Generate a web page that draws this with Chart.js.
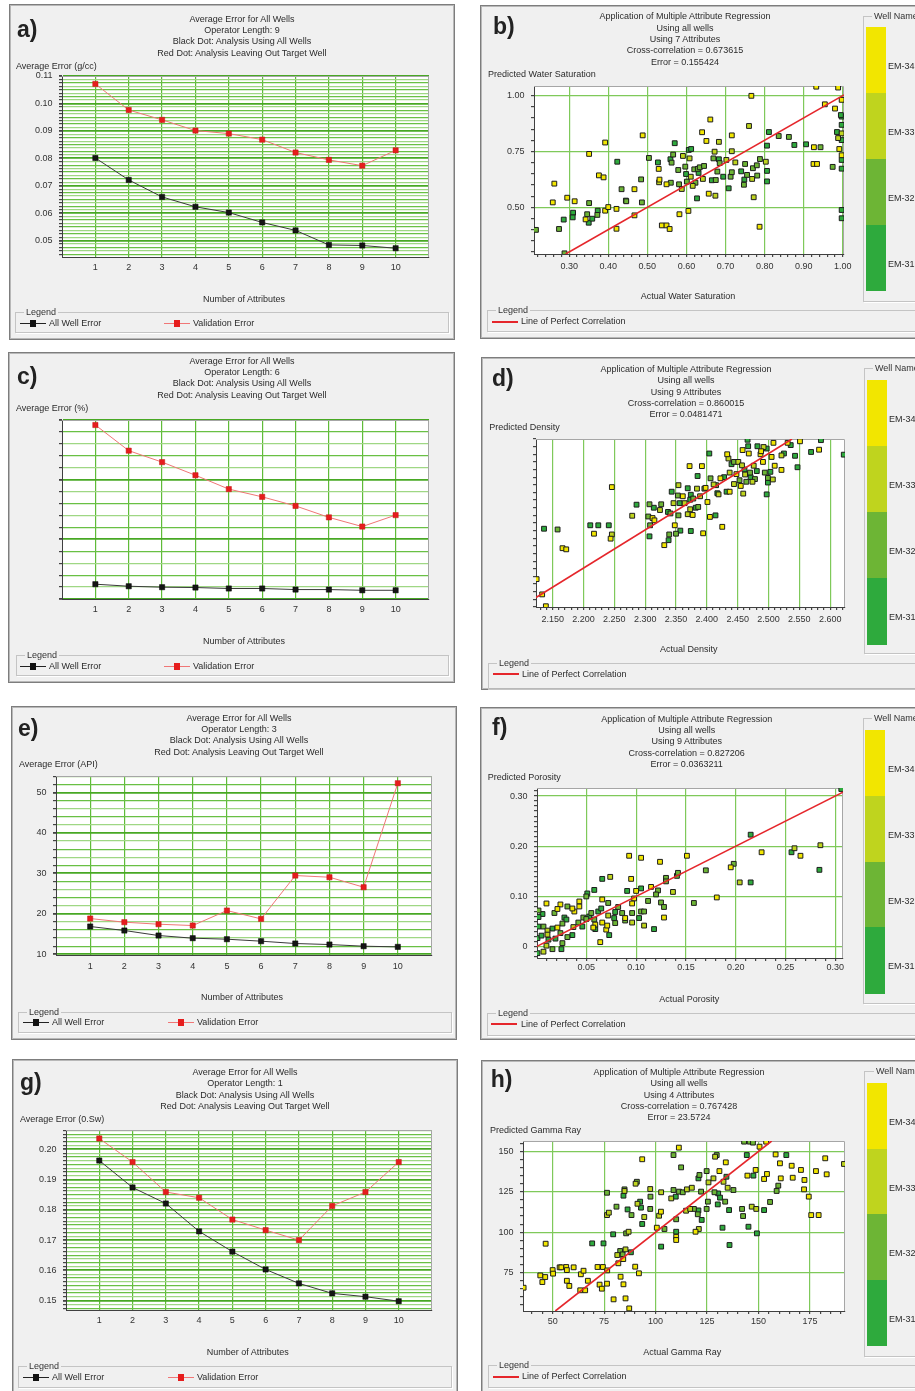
<!DOCTYPE html>
<html>
<head>
<meta charset="utf-8">
<script src="https://cdn.jsdelivr.net/npm/chart.js@4.4.0/dist/chart.umd.min.js"></script>
<style>
html, body { margin: 0; padding: 0; background: #fff; }
body { position: relative; width: 915px; height: 1391px; overflow: hidden; font-family: "Liberation Sans", Arial, sans-serif; color: #2b2b2b; }
.panel { position: absolute; background: #f0f0f0; border: 1px solid #7d7d7d; box-shadow: inset 0 0 0 1px #b8b8b8; box-sizing: border-box; }
.t { position: absolute; font-size: 9px; line-height: 11px; white-space: nowrap; }
.lbl { position: absolute; font-size: 23px; line-height: 23px; font-weight: bold; color: #222; }
.grp { position: absolute; border: 1px solid #c4c4c4; box-shadow: 1px 1px 0 #fff; box-sizing: border-box; }
.grp span { position: absolute; top: -6px; background: #f0f0f0; padding: 0 2px; font-size: 9px; line-height: 11px; color: #333; }
canvas { position: absolute; }
</style>
</head>
<body>
<script>
// ---- data: error vs number of attributes ----
const attributes = [1, 2, 3, 4, 5, 6, 7, 8, 9, 10];
const aAllWell    = [0.0801, 0.0721, 0.0659, 0.0623, 0.0602, 0.0566, 0.0537, 0.0484, 0.0482, 0.0472];
const aValidation = [0.1071, 0.0976, 0.0940, 0.0901, 0.0890, 0.0868, 0.0821, 0.0794, 0.0773, 0.0829];
const cAllWell    = [1.24, 1.07, 0.99, 0.96, 0.88, 0.88, 0.79, 0.79, 0.73, 0.73];
const cValidation = [14.58, 12.43, 11.47, 10.37, 9.21, 8.56, 7.80, 6.84, 6.07, 7.03];
const eAllWell    = [16.85, 15.86, 14.62, 13.96, 13.71, 13.22, 12.64, 12.39, 11.98, 11.81];
const eValidation = [18.82, 17.92, 17.42, 17.09, 20.80, 18.74, 29.46, 29.05, 26.58, 52.31];
const gAllWell    = [0.1963, 0.1874, 0.1821, 0.1729, 0.1662, 0.1603, 0.1557, 0.1524, 0.1513, 0.1498];
const gValidation = [0.2036, 0.1958, 0.1859, 0.1840, 0.1768, 0.1733, 0.1700, 0.1813, 0.1859, 0.1958];

// ---- data: crossplots, [actual, predicted] per well ----
const wellNames  = ['EM-34', 'EM-33', 'EM-32', 'EM-31'];
const wellColors = ['#f2e600', '#bfd41e', '#6db535', '#2eaa3d'];

const bEM34 = [[0.262,0.606],[0.258,0.522],[0.295,0.543],[0.314,0.527],[0.342,0.446],[0.351,0.739],[0.376,0.643],[0.388,0.634],[0.392,0.790],[0.392,0.485],[0.400,0.501],[0.421,0.493],[0.421,0.404],[0.467,0.581],[0.467,0.464],[0.488,0.822],[0.529,0.672],[0.531,0.624],[0.537,0.419],[0.549,0.419],[0.549,0.603],[0.557,0.403],[0.582,0.469],[0.605,0.484],[0.640,0.836],[0.651,0.797],[0.657,0.561],[0.661,0.893],[0.716,0.822],[0.766,0.999],[0.787,0.413],[0.926,0.769],[0.925,0.694],[0.934,0.694],[0.932,1.040],[0.954,0.961],[0.980,0.942],[0.988,1.036],[0.991,0.761],[0.997,0.981],[0.997,0.733]];
const bEM33 = [[0.530,0.612],[0.588,0.582],[0.591,0.730],[0.608,0.719],[0.611,0.637],[0.616,0.596],[0.642,0.627],[0.672,0.749],[0.674,0.552],[0.683,0.793],[0.702,0.712],[0.716,0.751],[0.725,0.701],[0.760,0.864],[0.768,0.627],[0.772,0.545],[0.803,0.704],[0.988,0.810],[0.997,0.831]];
const bEM32 = [[0.215,0.399],[0.274,0.403],[0.288,0.294],[0.346,0.469],[0.351,0.519],[0.372,0.466],[0.434,0.581],[0.446,0.527],[0.484,0.625],[0.486,0.522],[0.504,0.721],[0.560,0.610],[0.562,0.700],[0.566,0.736],[0.579,0.667],[0.581,0.603],[0.597,0.682],[0.601,0.615],[0.620,0.670],[0.623,0.610],[0.629,0.672],[0.634,0.679],[0.645,0.685],[0.669,0.719],[0.675,0.622],[0.679,0.660],[0.685,0.698],[0.713,0.637],[0.716,0.657],[0.747,0.601],[0.750,0.694],[0.755,0.645],[0.770,0.675],[0.780,0.688],[0.781,0.642],[0.788,0.716],[0.836,0.819],[0.862,0.815],[0.943,0.769],[0.974,0.681]];
const bEM31 = [[0.286,0.445],[0.310,0.476],[0.309,0.455],[0.350,0.431],[0.359,0.449],[0.373,0.485],[0.423,0.704],[0.445,0.530],[0.527,0.701],[0.559,0.715],[0.570,0.787],[0.599,0.649],[0.606,0.757],[0.612,0.761],[0.627,0.540],[0.631,0.654],[0.665,0.621],[0.683,0.715],[0.694,0.637],[0.708,0.585],[0.740,0.661],[0.748,0.624],[0.806,0.776],[0.806,0.663],[0.806,0.616],[0.811,0.837],[0.876,0.779],[0.906,0.782],[0.985,0.837],[0.997,0.906],[0.997,0.869],[0.997,0.801],[0.997,0.712],[0.997,0.673],[0.997,0.488],[0.997,0.451],[0.995,0.913]];

const dEM34 = [[2.124,2.171],[2.133,2.131],[2.139,2.100],[2.166,2.252],[2.172,2.249],[2.217,2.290],[2.246,2.412],[2.244,2.277],[2.312,2.331],[2.315,2.325],[2.331,2.260],[2.348,2.312],[2.361,2.388],[2.372,2.467],[2.377,2.339],[2.392,2.467],[2.394,2.291],[2.398,2.410],[2.401,2.373],[2.405,2.334],[2.422,2.435],[2.425,2.308],[2.433,2.498],[2.437,2.400],[2.448,2.446],[2.455,2.415],[2.458,2.509],[2.468,2.500],[2.487,2.498],[2.488,2.506],[2.491,2.478],[2.505,2.491],[2.508,2.528],[2.510,2.468],[2.521,2.457],[2.531,2.528],[2.551,2.532],[2.582,2.510]];
const dEM33 = [[2.246,2.288],[2.279,2.337],[2.324,2.352],[2.346,2.370],[2.364,2.370],[2.369,2.341],[2.373,2.354],[2.389,2.388],[2.419,2.393],[2.435,2.487],[2.437,2.450],[2.444,2.420],[2.451,2.478],[2.457,2.469],[2.462,2.445],[2.474,2.426],[2.476,2.468],[2.492,2.517],[2.507,2.432],[2.521,2.495],[2.354,2.417],[2.384,2.408],[2.411,2.419],[2.459,2.395]];
const dEM32 = [[2.158,2.301],[2.305,2.335],[2.307,2.367],[2.308,2.312],[2.326,2.367],[2.339,2.288],[2.341,2.343],[2.350,2.290],[2.353,2.390],[2.354,2.338],[2.378,2.382],[2.386,2.360],[2.396,2.408],[2.406,2.435],[2.415,2.417],[2.444,2.478],[2.453,2.430],[2.464,2.426],[2.470,2.450],[2.478,2.433],[2.494,2.450],[2.499,2.436]];
const dEM31 = [[2.136,2.303],[2.211,2.312],[2.224,2.312],[2.241,2.312],[2.286,2.366],[2.307,2.283],[2.314,2.358],[2.337,2.347],[2.338,2.273],[2.343,2.400],[2.356,2.370],[2.357,2.298],[2.369,2.409],[2.374,2.392],[2.374,2.297],[2.382,2.358],[2.385,2.441],[2.404,2.500],[2.414,2.338],[2.417,2.396],[2.428,2.438],[2.432,2.400],[2.440,2.472],[2.461,2.458],[2.466,2.536],[2.467,2.519],[2.471,2.438],[2.481,2.454],[2.482,2.519],[2.497,2.513],[2.497,2.393],[2.499,2.424],[2.503,2.452],[2.525,2.500],[2.536,2.522],[2.543,2.494],[2.547,2.464],[2.569,2.504],[2.585,2.535],[2.622,2.497],[2.373,2.379]];

const fEM34 = [[0.093,0.181],[0.105,0.177],[0.124,0.169],[0.151,0.181],[0.095,0.135],[0.100,0.111],[0.115,0.119],[0.098,0.096],[0.096,0.086],[0.128,0.058],[0.181,0.098],[0.195,0.158],[0.226,0.188],[0.265,0.181],[0.070,0.034],[0.064,0.009],[0.066,0.094],[0.043,0.090],[0.043,0.080],[0.038,0.070],[0.036,0.076],[0.024,0.084],[0.021,0.075],[0.010,0.086],[0.021,0.038],[0.059,0.044],[0.066,0.048],[0.071,0.042],[0.057,0.038],[0.089,0.057]];
const fEM33 = [[0.074,0.139],[0.137,0.109],[0.204,0.128],[0.259,0.196],[0.285,0.202],[0.108,0.042],[0.096,0.048],[0.072,0.062],[0.011,0.032],[0.037,0.039],[0.010,0.002],[0.007,-0.010],[0.011,0.024]];
const fEM32 = [[0.122,0.112],[0.130,0.137],[0.130,0.130],[0.141,0.141],[0.142,0.147],[0.120,0.104],[0.112,0.091],[0.125,0.088],[0.128,0.079],[0.158,0.087],[0.170,0.152],[0.198,0.165],[0.105,0.070],[0.108,0.070],[0.096,0.067],[0.089,0.052],[0.086,0.067],[0.082,0.079],[0.072,0.087],[0.050,0.100],[0.031,0.080],[0.018,0.067],[0.002,0.072],[0.007,0.040],[0.026,0.046],[0.042,0.048],[0.047,0.058],[0.055,0.067],[0.058,0.054],[0.050,0.055],[0.031,0.019],[0.026,0.007],[0.016,-0.005],[0.024,0.027],[0.079,0.047]];
const fEM31 = [[0.306,0.314],[0.215,0.223],[0.066,0.135],[0.105,0.116],[0.091,0.111],[0.215,0.128],[0.256,0.188],[0.284,0.153],[0.118,0.035],[0.103,0.057],[0.079,0.069],[0.078,0.057],[0.073,0.023],[0.058,0.113],[0.051,0.106],[0.006,0.065],[0.002,0.059],[0.002,0.040],[0.016,0.036],[0.028,0.058],[0.030,0.054],[0.053,0.060],[0.062,0.070],[0.065,0.076],[0.059,0.035],[0.046,0.040],[0.036,0.023],[0.025,-0.005],[0.001,-0.013],[0.001,0.017],[0.005,0.022],[0.019,0.016],[0.012,0.014]];

const hEM34 = [[35.9,65.7],[46.6,92.9],[44.0,73.3],[45.0,69.2],[46.4,72.3],[50.0,76.6],[50.2,74.4],[53.4,78.3],[54.2,78.3],[56.6,78.5],[56.9,76.6],[56.9,70.0],[58.1,66.8],[60.2,78.3],[63.4,64.1],[63.7,74.0],[65.0,76.2],[65.8,64.1],[67.1,70.0],[71.8,78.5],[72.8,67.6],[73.9,65.1],[74.4,78.5],[76.4,68.2],[76.5,76.4],[79.6,58.5],[81.9,80.8],[83.0,72.5],[84.3,83.4],[84.4,67.8],[85.4,59.1],[87.2,52.9],[90.1,78.7],[91.9,74.6],[93.5,145.1],[100.6,102.8],[102.6,112.7],[110.0,97.2],[110.0,95.2],[111.3,152.3],[119.4,100.3],[131.0,137.8],[134.1,143.2],[144.6,135.0],[148.6,138.5],[150.5,152.9],[152.7,132.9],[153.7,156.0],[154.1,136.0],[158.3,148.1],[160.4,142.6],[160.8,133.3],[166.1,141.1],[166.6,133.7],[170.6,138.5],[172.3,132.3],[172.1,126.5],[174.4,122.0],[175.6,110.6],[179.2,110.6],[177.9,137.8],[182.4,145.7],[183.1,135.8]];
const hEM33 = [[76.4,110.6],[77.3,112.1],[81.4,85.9],[84.9,125.5],[85.4,89.4],[86.9,100.3],[90.3,130.0],[91.2,117.6],[94.5,109.4],[97.4,126.7],[101.7,110.2],[102.7,124.7],[107.6,120.9],[114.8,113.3],[115.2,126.5],[116.8,114.4],[117.6,127.5],[121.0,102.0],[125.7,130.8],[128.1,133.3],[128.9,146.7],[133.0,131.2],[135.0,127.5],[146.7,115.8],[148.9,114.4],[191.5,142.2]];
const hEM32 = [[76.4,124.4],[81.0,115.8],[82.8,88.4],[84.0,86.3],[84.9,126.5],[85.7,99.3],[88.3,110.6],[90.9,131.2],[97.5,122.0],[97.4,114.4],[104.3,102.0],[108.7,147.7],[110.0,108.0],[112.4,140.1],[108.7,126.1],[111.4,125.1],[113.2,124.7],[118.6,114.4],[120.5,111.1],[121.3,135.4],[122.1,125.1],[124.8,137.8],[125.4,118.9],[124.8,114.4],[128.6,124.7],[129.7,147.7],[133.8,118.9],[137.8,126.1],[142.0,114.4],[142.5,110.0],[143.0,156.0],[145.7,156.0],[147.3,155.4],[155.6,118.7],[158.8,125.5],[159.6,128.8]];
const hEM31 = [[69.2,93.1],[74.7,93.1],[79.4,98.7],[84.4,122.6],[86.4,114.1],[88.0,87.6],[92.5,118.9],[92.9,115.2],[93.5,105.1],[102.7,91.1],[110.0,100.3],[109.8,122.0],[120.8,133.3],[120.8,113.5],[122.4,107.6],[130.2,117.2],[130.4,124.0],[131.3,121.4],[132.5,102.8],[134.4,134.3],[135.7,113.7],[135.9,92.1],[144.3,147.7],[145.1,103.4],[147.5,135.0],[149.2,99.3],[152.7,113.7],[163.5,147.7]];

// ---- panel layout ----
const errTitle = op => ['Average Error for All Wells', 'Operator Length: ' + op, 'Black Dot: Analysis Using All Wells', 'Red Dot: Analysis Leaving Out Target Well'];
const regTitle = (n, cc, err) => ['Application of Multiple Attribute Regression', 'Using all wells', 'Using ' + n + ' Attributes', 'Cross-correlation = ' + cc, 'Error = ' + err];

const linePanels = [
  { tag: 'a)', box: { x: 9, y: 4, w: 446, h: 336 }, plot: { l: 62, t: 76, r: 429, b: 257 },
    y: { min: 0.044, max: 0.11, step: 0.00125, major: 0.01, fmt: v => v.toFixed(2) },
    all: aAllWell, val: aValidation, xPad: 5.6, label: [17, 31.7],
    title: { cx: 242, y0: 19, lines: errTitle(9) }, yTitle: [16, 66, 'Average Error (g/cc)'], xTitle: [244, 299],
    legend: { l: 15, r: 449, t: 312, b: 333, y: 323, x1: 20, x2: 164 } },
  { tag: 'c)', box: { x: 8, y: 352, w: 447, h: 331 }, plot: { l: 62, t: 420, r: 429, b: 599 },
    y: { min: 0, max: 15, step: 1, major: 5, fmt: v => '' },
    all: cAllWell, val: cValidation, xPad: 5.6, label: [17, 378.3],
    title: { cx: 242, y0: 361, lines: errTitle(6) }, yTitle: [16, 408, 'Average Error (%)'], xTitle: [244, 641.7],
    legend: { l: 16, r: 449, t: 655, b: 676, y: 666, x1: 20, x2: 164 } },
  { tag: 'e)', box: { x: 11, y: 706, w: 446, h: 334 }, plot: { l: 56, t: 776, r: 432, b: 955 },
    y: { min: 9.8, max: 54.1, step: 2, major: 10, fmt: v => String(Math.round(v)) },
    all: eAllWell, val: eValidation, xPad: 6.3, label: [18, 730],
    title: { cx: 239, y0: 718, lines: errTitle(3) }, yTitle: [19, 764.3, 'Average Error (API)'], xTitle: [242, 997.7],
    legend: { l: 18, r: 452, t: 1012, b: 1033, y: 1022, x1: 23, x2: 168 } },
  { tag: 'g)', box: { x: 12, y: 1059, w: 446, h: 340 }, plot: { l: 66, t: 1130, r: 432, b: 1310 },
    y: { min: 0.1469, max: 0.2064, step: 0.00125, major: 0.01, fmt: v => v.toFixed(2) },
    all: gAllWell, val: gValidation, xPad: 5.6, label: [20, 1084],
    title: { cx: 245, y0: 1072.3, lines: errTitle(1) }, yTitle: [20, 1119, 'Average Error (0.Sw)'], xTitle: [247.7, 1352.3],
    legend: { l: 18, r: 452, t: 1366, b: 1388, y: 1377, x1: 23, x2: 168 } }
];

const scatterPanels = [
  { tag: 'b)', box: { x: 480, y: 5, w: 460, h: 334 }, plot: { l: 534, t: 86, r: 844, b: 254 },
    x: { min: 0.21, max: 1.003, step: 0.02, major: 0.1, fmt: v => v.toFixed(2) },
    y: { min: 0.291, max: 1.043, step: 0.05, major: 0.25, fmt: v => v.toFixed(2) },
    wells: [bEM34, bEM33, bEM32, bEM31], xPad: 4.3, label: [493, 28.3],
    title: { cx: 685, y0: 16.7, lines: regTitle(7, '0.673615', '0.155424') },
    yTitle: [488, 74.7, 'Predicted Water Saturation'], xTitle: [688, 296.7, 'Actual Water Saturation'],
    legend: { l: 487, t: 310, b: 332, y: 321.7, lx: 492, tx: 521 },
    wellBox: { l: 863, t: 15.7, b: 301.7, lx: 873, bar: [866, 886, 27.3, 290.7], tx: 888 } },
  { tag: 'd)', box: { x: 481, y: 357, w: 460, h: 333 }, plot: { l: 536, t: 439, r: 845, b: 607 },
    x: { min: 2.123, max: 2.624, step: 0.01, major: 0.05, fmt: v => v.toFixed(3) },
    y: { min: 2.098, max: 2.538, step: 0.02, major: 0.1, fmt: v => v.toFixed(2) },
    wells: [dEM34, dEM33, dEM32, dEM31], xPad: 3.9, label: [492, 380],
    title: { cx: 686, y0: 369.3, lines: regTitle(9, '0.860015', '0.0481471') },
    yTitle: [489.3, 427.3, 'Predicted Density'], xTitle: [688.7, 649.7, 'Actual Density'],
    legend: { l: 488, t: 663, b: 690, y: 674.3, lx: 492.5, tx: 522 },
    wellBox: { l: 864, t: 368.3, b: 654.3, lx: 874, bar: [867, 887, 380, 644], tx: 889 } },
  { tag: 'f)', box: { x: 480, y: 707, w: 460, h: 333 }, plot: { l: 537, t: 788, r: 843, b: 958 },
    x: { min: 0.0005, max: 0.3077, step: 0.01, major: 0.05, fmt: v => v.toFixed(2) },
    y: { min: -0.0226, max: 0.316, step: 0.01, major: 0.1, fmt: v => Math.abs(v) < 1e-9 ? '0' : v.toFixed(2) },
    wells: [fEM34, fEM33, fEM32, fEM31], xPad: 1.6, label: [492, 729.3],
    title: { cx: 686.7, y0: 719, lines: regTitle(9, '0.827206', '0.0363211') },
    yTitle: [487.7, 777.3, 'Predicted Porosity'], xTitle: [689.3, 999.3, 'Actual Porosity'],
    legend: { l: 487, t: 1013, b: 1036, y: 1024, lx: 491, tx: 521 },
    wellBox: { l: 862.7, t: 718.3, b: 1004, lx: 873, bar: [865, 885.3, 730, 993.3], tx: 888 } },
  { tag: 'h)', box: { x: 481, y: 1060, w: 460, h: 340 }, plot: { l: 523, t: 1141, r: 845, b: 1311 },
    x: { min: 35.6, max: 192, step: 5, major: 25, fmt: v => String(Math.round(v)) },
    y: { min: 51.3, max: 156.4, step: 5, major: 25, fmt: v => String(Math.round(v)) },
    wells: [hEM34, hEM33, hEM32, hEM31], xPad: 2.3, label: [490.7, 1081],
    title: { cx: 679, y0: 1072.3, lines: regTitle(4, '0.767428', '23.5724') },
    yTitle: [490, 1130.3, 'Predicted Gamma Ray'], xTitle: [682.3, 1352.3, 'Actual Gamma Ray'],
    legend: { l: 488, t: 1365, b: 1388, y: 1376.7, lx: 493, tx: 522 },
    wellBox: { l: 864.3, t: 1071, b: 1356.7, lx: 875, bar: [867, 887, 1082.7, 1346], tx: 889 } }
];

Chart.defaults.font.family = '"Liberation Sans", Arial, sans-serif';
Chart.defaults.font.size = 9;
Chart.defaults.color = '#333';

const isMul = (v, s) => Math.abs(v / s - Math.round(v / s)) < 1e-6;

// white plot background and thin grey frame on top/right
const plotFrame = {
  id: 'plotFrame',
  beforeDraw(chart) {
    const { ctx, chartArea: a } = chart;
    ctx.save();
    ctx.fillStyle = '#fff';
    ctx.fillRect(a.left, a.top, a.right - a.left, a.bottom - a.top);
    ctx.restore();
  },
  beforeDatasetsDraw(chart) {
    const { ctx, chartArea: a } = chart;
    ctx.save();
    ctx.strokeStyle = '#a6a6a6';
    ctx.lineWidth = 1;
    ctx.beginPath();
    ctx.moveTo(a.left, Math.round(a.top) + 0.5);
    ctx.lineTo(Math.round(a.right) - 0.5, Math.round(a.top) + 0.5);
    ctx.lineTo(Math.round(a.right) - 0.5, a.bottom);
    ctx.stroke();
    ctx.restore();
  }
};

function el(cls, css, text) {
  const d = document.createElement('div');
  if (cls) d.className = cls;
  d.style.cssText = css;
  if (text !== undefined) d.textContent = text;
  document.body.appendChild(d);
  return d;
}
function txt(s, x, y, center) {
  return el('t', `left:${x}px;top:${y - 5.5}px;` + (center ? 'transform:translateX(-50%);' : ''), s);
}
function group(name, l, t, w, h, lx) {
  const g = el('grp', `left:${l}px;top:${t}px;width:${w}px;height:${h}px;`);
  const s = document.createElement('span');
  s.textContent = name;
  s.style.left = (lx - l - 2) + 'px';
  g.appendChild(s);
}
function frame(p) {
  el('panel', `left:${p.box.x}px;top:${p.box.y}px;width:${p.box.w}px;height:${p.box.h}px;`);
  const cv = document.createElement('canvas');
  cv.width = Math.min(p.box.w, 915 - p.box.x);
  cv.height = Math.min(p.box.h, 1391 - p.box.y);
  cv.style.left = p.box.x + 'px';
  cv.style.top = p.box.y + 'px';
  document.body.appendChild(cv);
  return cv;
}
function texts(p) {
  el('lbl', `left:${p.label[0]}px;top:${p.label[1] - 13.5}px;`, p.tag);
  p.title.lines.forEach((s, i) => txt(s, p.title.cx, p.title.y0 + i * 11.4, true));
  txt(p.yTitle[2], p.yTitle[0], p.yTitle[1]);
}
function axis(p, spec, horizontal, pad) {
  return {
    type: 'linear', min: spec.min, max: spec.max,
    ticks: {
      stepSize: spec.step, includeBounds: false, autoSkip: false, maxRotation: 0, minRotation: 0,
      padding: pad, color: '#333',
      callback: v => isMul(v, spec.major) ? spec.fmt(v) : ''
    },
    border: { color: '#3f3f3f', width: 1 },
    afterFit: s => {
      if (horizontal) s.height = p.box.y + s.chart.height - p.plot.b;
      else s.width = p.plot.l - p.box.x;
    }
  };
}

function makeLinePanel(p) {
  const cv = frame(p);
  const pts = arr => attributes.map((a, i) => ({ x: a, y: arr[i] }));
  const xs = axis(p, { min: 0, max: 11, step: 1, major: 1, fmt: v => (v >= 1 && v <= 10) ? String(v) : '' }, true, p.xPad);
  xs.grid = { drawTicks: false, lineWidth: 1.2, color: c => { const v = c.tick ? c.tick.value : 0; return (v >= 1 && v <= 10) ? '#5fbb38' : 'rgba(0,0,0,0)'; } };
  const ys = axis(p, p.y, false, 6.5);
  ys.grid = {
    tickLength: 3, tickColor: '#444',
    lineWidth: c => isMul(c.tick ? c.tick.value : 0, p.y.major) ? 1.8 : 1.2,
    color: c => {
      const v = c.tick ? c.tick.value : 0;
      if (isMul(v, p.y.major)) return '#48a824';
      return Math.round(v / p.y.step) % 2 ? '#9fd784' : '#69c044';
    }
  };
  new Chart(cv, {
    type: 'line',
    data: {
      datasets: [
        { label: 'All Well Error', data: pts(p.all), borderColor: '#3a3a3a', borderWidth: 1, tension: 0,
          pointStyle: 'rect', pointRadius: 3.7, pointBackgroundColor: '#151515', pointBorderColor: '#000', pointBorderWidth: 0.5 },
        { label: 'Validation Error', data: pts(p.val), borderColor: '#f07676', borderWidth: 1, tension: 0,
          pointStyle: 'rect', pointRadius: 3.7, pointBackgroundColor: '#e61d1d', pointBorderColor: '#c41212', pointBorderWidth: 0.5 }
      ]
    },
    options: {
      responsive: false, animation: false, devicePixelRatio: 1,
      layout: { padding: { left: 0, top: p.plot.t - p.box.y, right: p.box.x + cv.width - p.plot.r, bottom: 0 } },
      plugins: { legend: { display: false }, tooltip: { enabled: false } },
      scales: { x: xs, y: ys }
    },
    plugins: [plotFrame]
  });
  texts(p);
  txt('Number of Attributes', p.xTitle[0], p.xTitle[1], true);
  const L = p.legend;
  group('Legend', L.l, L.t, L.r - L.l, L.b - L.t, L.l + 10);
  [[L.x1, '#222', '#111', 'All Well Error'], [L.x2, '#f07676', '#e61d1d', 'Validation Error']].forEach(([x, lc, mc, s]) => {
    el('', `position:absolute;left:${x}px;top:${L.y - 0.5}px;width:26px;height:1px;background:${lc};`);
    el('', `position:absolute;left:${x + 10}px;top:${L.y - 3.5}px;width:6px;height:7px;background:${mc};`);
    txt(s, x + 29, L.y);
  });
}

function makeScatterPanel(p) {
  const cv = frame(p);
  const xs = axis(p, p.x, true, p.xPad);
  xs.grid = { tickLength: 3, tickColor: '#444', lineWidth: 1.2, color: c => isMul(c.tick ? c.tick.value : 0, p.x.major) ? '#7fc95a' : 'rgba(0,0,0,0)' };
  const ys = axis(p, p.y, false, 6.5);
  ys.grid = { tickLength: 3, tickColor: '#444', lineWidth: 1.2, color: c => isMul(c.tick ? c.tick.value : 0, p.y.major) ? '#7fc95a' : 'rgba(0,0,0,0)' };
  const lo = Math.max(p.x.min, p.y.min), hi = Math.min(p.x.max, p.y.max);
  const datasets = [{ label: 'Line of Perfect Correlation', data: [{ x: lo, y: lo }, { x: hi, y: hi }], showLine: true,
    borderColor: '#e5262b', borderWidth: 1.6, pointRadius: 0 }];
  p.wells.forEach((w, i) => datasets.push({
    label: wellNames[i], data: w.map(([x, y]) => ({ x, y })),
    pointStyle: 'rect', pointRadius: 3.4, pointBackgroundColor: wellColors[i], pointBorderColor: '#1c1c1c', pointBorderWidth: 1
  }));
  new Chart(cv, {
    type: 'scatter',
    data: { datasets },
    options: {
      responsive: false, animation: false, devicePixelRatio: 1,
      layout: { padding: { left: 0, top: p.plot.t - p.box.y, right: p.box.x + cv.width - p.plot.r, bottom: 0 } },
      plugins: { legend: { display: false }, tooltip: { enabled: false } },
      scales: { x: xs, y: ys }
    },
    plugins: [plotFrame]
  });
  texts(p);
  txt(p.xTitle[2], p.xTitle[0], p.xTitle[1], true);
  const L = p.legend;
  group('Legend', L.l, L.t, 500, L.b - L.t, L.l + 10);
  el('', `position:absolute;left:${L.lx}px;top:${L.y - 1}px;width:26px;height:2px;background:#e5262b;`);
  txt('Line of Perfect Correlation', L.tx, L.y);
  const W = p.wellBox;
  group('Well Name', W.l, W.t, 120, W.b - W.t, W.lx);
  const [bl, br, bt, bb] = W.bar;
  const seg = (bb - bt) / wellNames.length;
  wellNames.forEach((n, i) => {
    el('', `position:absolute;left:${bl}px;top:${bt + i * seg}px;width:${br - bl}px;height:${seg + 0.5}px;background:${wellColors[i]};`);
    txt(n, W.tx, bt + (i + 0.6) * seg);
  });
}

linePanels.forEach(makeLinePanel);
scatterPanels.forEach(makeScatterPanel);
</script>
</body>
</html>
